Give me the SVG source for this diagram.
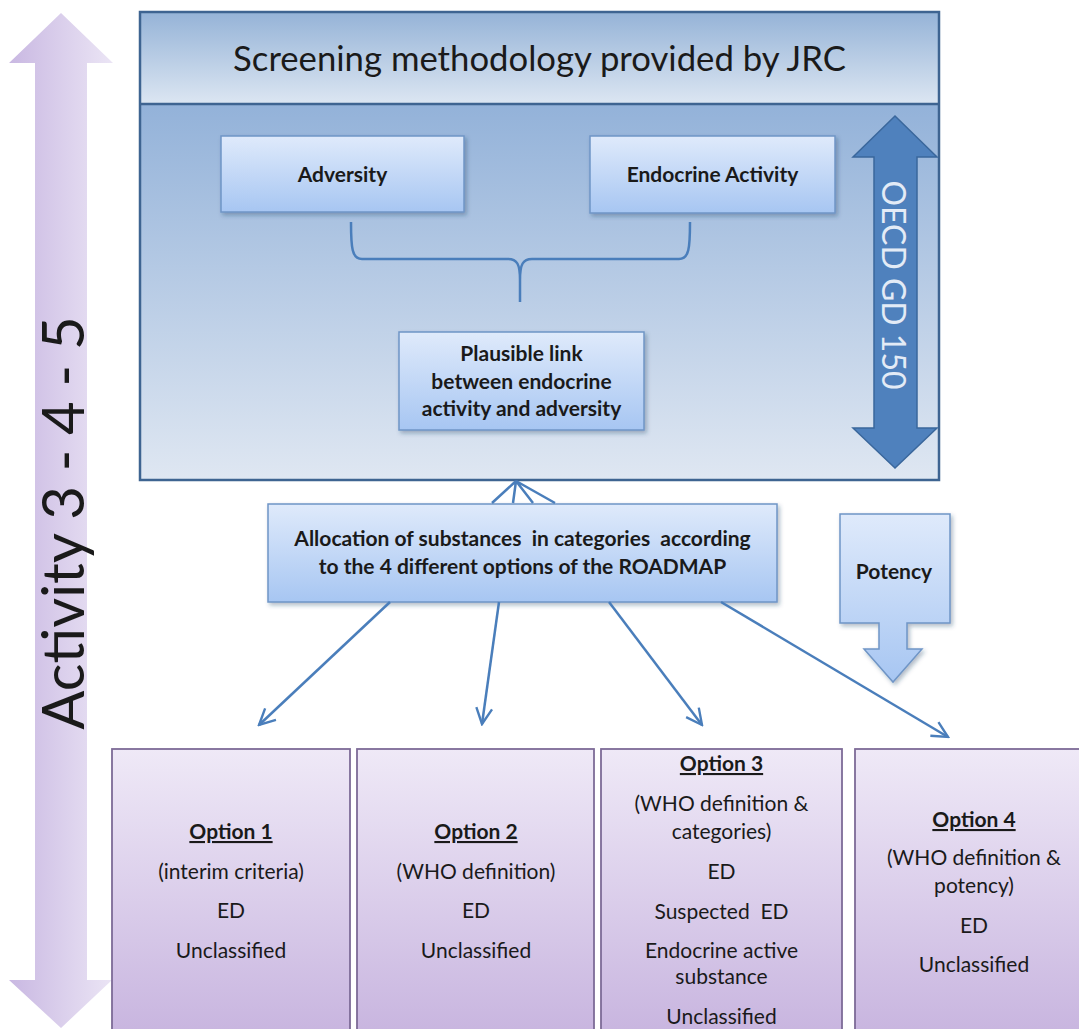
<svg xmlns="http://www.w3.org/2000/svg" width="1079" height="1029" viewBox="0 0 1079 1029">
  <defs>
    <linearGradient id="gHeader" x1="0" y1="0" x2="0" y2="1">
      <stop offset="0" stop-color="#95b3d7"/>
      <stop offset="1" stop-color="#dce6f2"/>
    </linearGradient>
    <linearGradient id="gBody" x1="0" y1="0" x2="0" y2="1">
      <stop offset="0" stop-color="#93b2d9"/>
      <stop offset="1" stop-color="#dfe7f2"/>
    </linearGradient>
    <linearGradient id="gNode" x1="0" y1="0" x2="0" y2="1">
      <stop offset="0" stop-color="#dfeafb"/>
      <stop offset="1" stop-color="#a7c6f2"/>
    </linearGradient>
    <linearGradient id="gOption" x1="0" y1="0" x2="0" y2="1">
      <stop offset="0" stop-color="#efe9f7"/>
      <stop offset="1" stop-color="#c6b2de"/>
    </linearGradient>
    <linearGradient id="gActivity" x1="0" y1="0" x2="1" y2="0">
      <stop offset="0" stop-color="#c9b8e2"/>
      <stop offset="1" stop-color="#ebe5f5"/>
    </linearGradient>
    <filter id="shadow" x="-10%" y="-10%" width="130%" height="130%">
      <feDropShadow dx="2" dy="2.5" stdDeviation="2" flood-color="#1f3a5f" flood-opacity="0.35"/>
    </filter>
    <marker id="openArrow" viewBox="0 0 12 12" refX="11" refY="6" markerWidth="19" markerHeight="19" markerUnits="userSpaceOnUse" orient="auto">
      <path d="M1,1 L11,6 L1,11" fill="none" stroke="#4a7ebb" stroke-width="1.5" stroke-linejoin="miter"/>
    </marker>
  </defs>
  <style>
    text { font-family: Lato, "Liberation Sans", sans-serif; fill: #1a1a1a; }
    .node { fill: url(#gNode); stroke: #6f95c6; stroke-width: 1.5; filter: url(#shadow); }
    .nodeLabel { font-size: 21px; font-weight: bold; text-anchor: middle; }
    .option { fill: url(#gOption); stroke: #7d6b97; stroke-width: 1.8; }
    .optText { font-size: 21px; text-anchor: middle; }
    .optHead { font-size: 21px; font-weight: bold; text-anchor: middle; text-decoration: underline; }
    .conn { fill: none; stroke: #4a7ebb; stroke-width: 2.5; }
    .onArrow { fill: #e3ebf6; }
  </style>

  <!-- Activity 3-4-5 double arrow along the left edge -->
  <g id="activity">
    <path d="M61,13 L113,63 H87 V980 H112 L61,1028 L9,980 H35 V63 H9 Z" fill="url(#gActivity)"/>
    <text transform="translate(84,523) rotate(-90)" text-anchor="middle" font-size="58">Activity 3 - 4 - 5</text>
  </g>

  <!-- Screening methodology container -->
  <g id="screening">
    <rect x="140" y="104" width="799" height="376" fill="url(#gBody)"/>
    <rect x="140" y="12" width="799" height="92" fill="url(#gHeader)"/>
    <rect x="140" y="12" width="799" height="468" fill="none" stroke="#3e6491" stroke-width="2.5"/>
    <line x1="140" y1="104" x2="939" y2="104" stroke="#3e6491" stroke-width="2.5"/>
    <text x="539.5" y="71" text-anchor="middle" font-size="34.7">Screening methodology provided by JRC</text>
  </g>

  <!-- OECD GD 150 double arrow -->
  <g id="oecd">
    <path d="M895,116 L937,157 H917 V428 H937 L895,468 L853,428 H874 V157 H853 Z" fill="#4f81bd" stroke="#3a679c" stroke-width="1.5"/>
    <text class="onArrow" transform="translate(882,285) rotate(90)" text-anchor="middle" font-size="32">OECD GD 150</text>
  </g>

  <g id="adversity">
    <rect class="node" x="221" y="136" width="243" height="76"/>
    <text class="nodeLabel" x="342.5" y="182">Adversity</text>
  </g>

  <g id="endocrine-activity">
    <rect class="node" x="590" y="136" width="245" height="77"/>
    <text class="nodeLabel" x="712.5" y="182">Endocrine Activity</text>
  </g>

  <g id="plausible-link">
    <rect class="node" x="399" y="332" width="245" height="98"/>
    <text class="nodeLabel" x="521.5" y="361">Plausible link</text>
    <text class="nodeLabel" x="521.5" y="389">between endocrine</text>
    <text class="nodeLabel" x="521.5" y="416">activity and adversity</text>
  </g>

  <g id="allocation">
    <rect class="node" x="268" y="504" width="509" height="98"/>
    <text class="nodeLabel" x="522.5" y="546" xml:space="preserve">Allocation of substances  in categories  according</text>
    <text class="nodeLabel" x="522.5" y="574">to the 4 different options of the ROADMAP</text>
  </g>

  <g id="potency">
    <path d="M840,514 H950 V623 H907 V649 H922 L893,682 L864,649 H879 V623 H840 Z" fill="url(#gNode)" stroke="#6f95c6" stroke-width="1.5" filter="url(#shadow)"/>
    <text class="nodeLabel" x="894" y="579">Potency</text>
  </g>

  <g id="option-1">
    <rect class="option" x="112" y="749" width="238" height="300"/>
    <text class="optHead" x="231" y="839">Option 1</text>
    <text class="optText" x="231" y="879">(interim criteria)</text>
    <text class="optText" x="231" y="918">ED</text>
    <text class="optText" x="231" y="958">Unclassified</text>
  </g>

  <g id="option-2">
    <rect class="option" x="357" y="749" width="237" height="300"/>
    <text class="optHead" x="476" y="839">Option 2</text>
    <text class="optText" x="476" y="879">(WHO definition)</text>
    <text class="optText" x="476" y="918">ED</text>
    <text class="optText" x="476" y="958">Unclassified</text>
  </g>

  <g id="option-3">
    <rect class="option" x="601" y="749" width="241" height="300"/>
    <text class="optHead" x="721.5" y="771">Option 3</text>
    <text class="optText" x="721.5" y="811">(WHO definition &amp;</text>
    <text class="optText" x="721.5" y="839">categories)</text>
    <text class="optText" x="721.5" y="879">ED</text>
    <text class="optText" x="721.5" y="919" xml:space="preserve">Suspected  ED</text>
    <text class="optText" x="721.5" y="958">Endocrine active</text>
    <text class="optText" x="721.5" y="984">substance</text>
    <text class="optText" x="721.5" y="1024">Unclassified</text>
  </g>

  <g id="option-4">
    <rect class="option" x="855" y="749" width="240" height="300"/>
    <text class="optHead" x="974" y="827">Option 4</text>
    <text class="optText" x="974" y="865">(WHO definition &amp;</text>
    <text class="optText" x="974" y="893">potency)</text>
    <text class="optText" x="974" y="933">ED</text>
    <text class="optText" x="974" y="972">Unclassified</text>
  </g>

  <g id="connectors">
    <!-- brace joining Adversity and Endocrine Activity -->
    <path class="conn" stroke-width="2" d="M351,222 C351,248 352,259 362,259 L508,259 C517,259 520,264 520,280 L520,302 M520,280 C520,264 523,259 532,259 L679,259 C689,259 690,248 690,222"/>
    <!-- fan from allocation box up to the container -->
    <path class="conn" d="M516,481 L492,503 M516,481 L513,503 M516,481 L533,503 M516,481 L555,503"/>
    <!-- allocation to the four options -->
    <line class="conn" x1="390" y1="602" x2="259" y2="725" marker-end="url(#openArrow)"/>
    <line class="conn" x1="499" y1="602" x2="482" y2="724" marker-end="url(#openArrow)"/>
    <line class="conn" x1="609" y1="602" x2="702" y2="725" marker-end="url(#openArrow)"/>
    <line class="conn" x1="721" y1="602" x2="948" y2="737" marker-end="url(#openArrow)"/>
  </g>
</svg>
